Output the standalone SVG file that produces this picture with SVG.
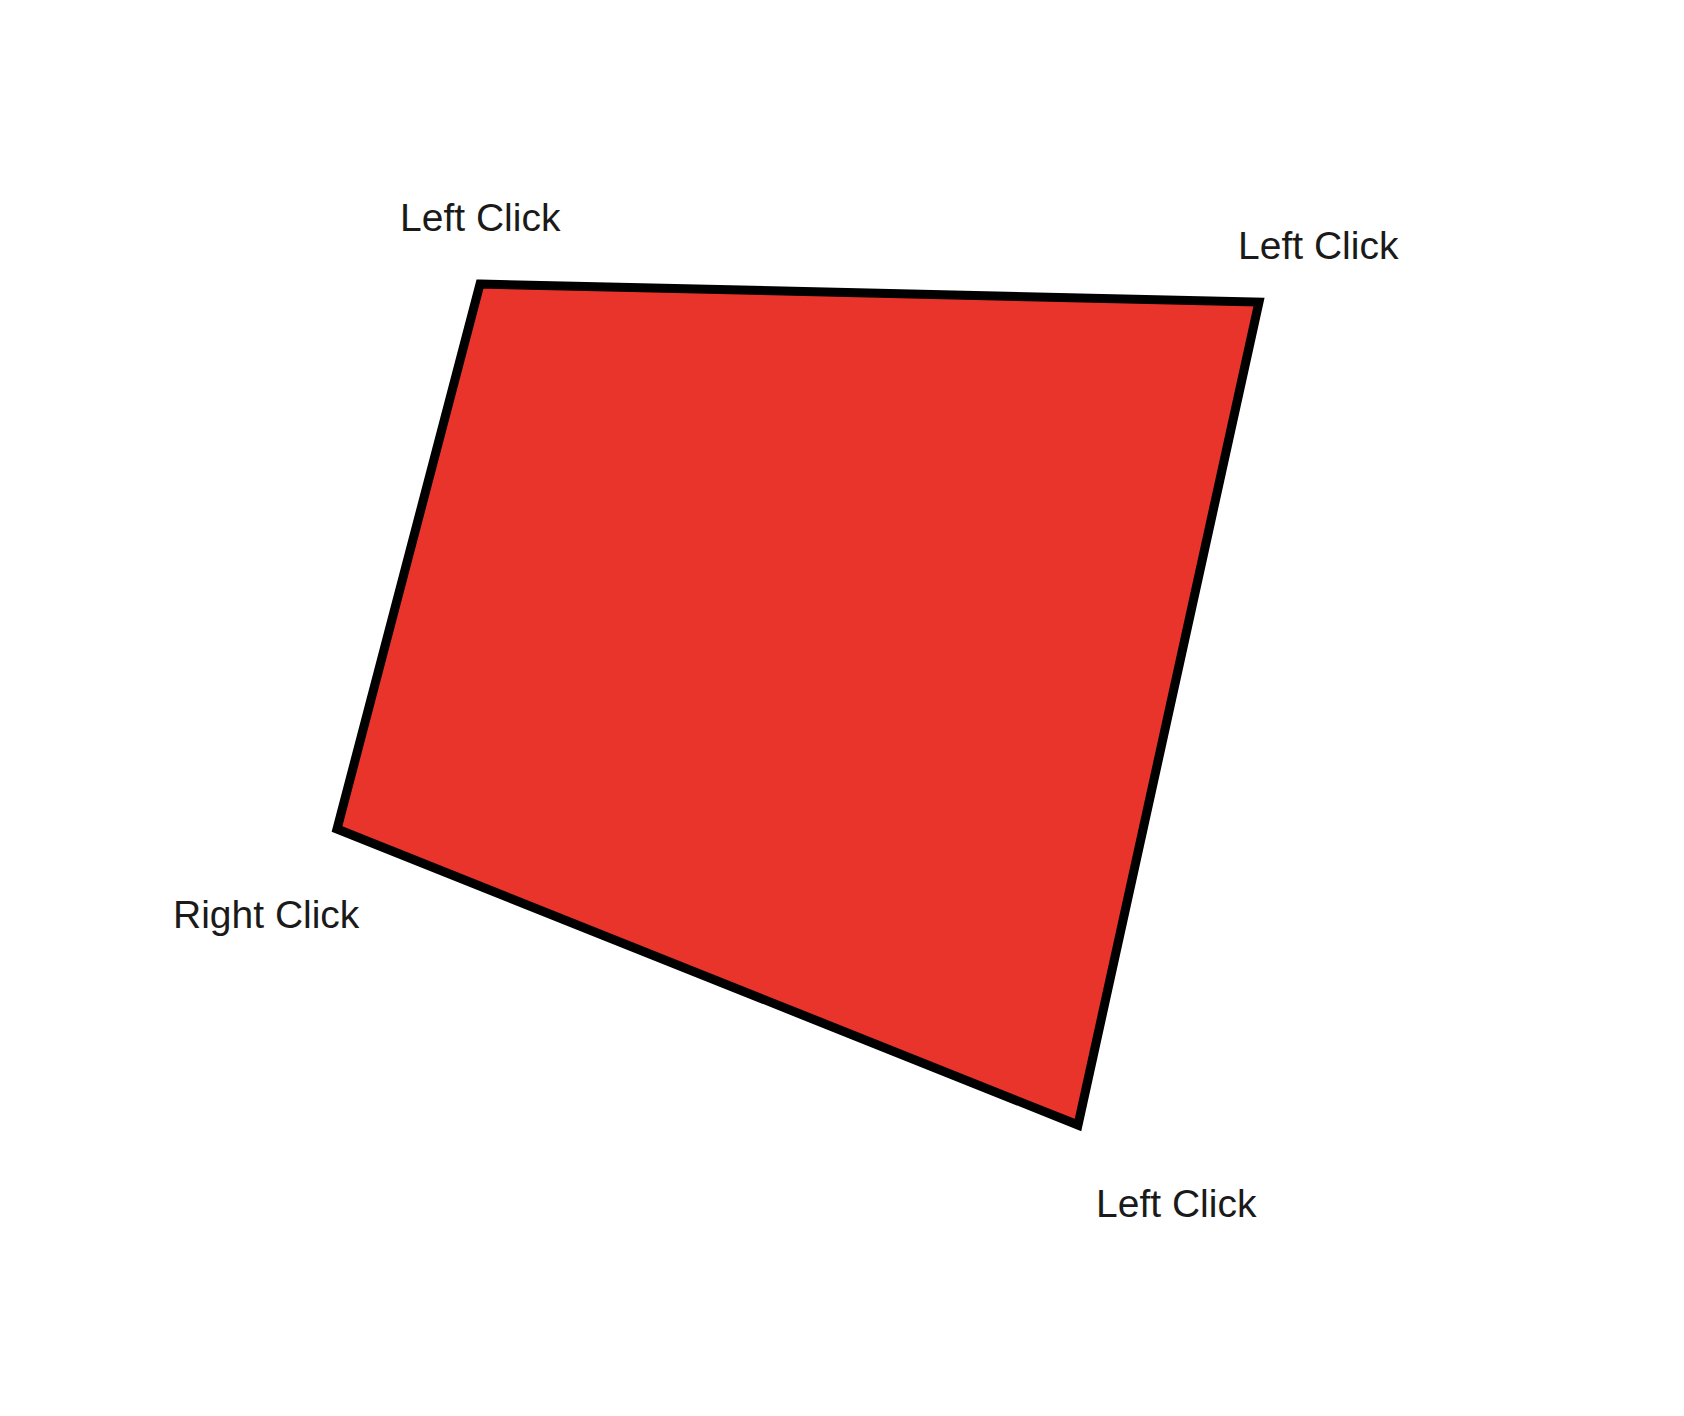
<svg xmlns="http://www.w3.org/2000/svg" width="1684" height="1416" viewBox="0 0 1684 1416">
<style>
.lbl{font-family:"Liberation Sans",Arial,sans-serif;font-size:39px;fill:#1a1a1a}
</style>
<rect width="1684" height="1416" fill="#ffffff"/>
<g id="shape">
<polygon points="480,284 1259,302 1078,1125 337,829" fill="#E8342A" stroke="#000000" stroke-width="9" stroke-linejoin="miter"/>
</g>
<g id="labels">
<text class="lbl" x="400" y="231">Left Click</text>
<text class="lbl" x="1238" y="259">Left Click</text>
<text class="lbl" x="173" y="928">Right Click</text>
<text class="lbl" x="1096" y="1217">Left Click</text>
</g>
</svg>
